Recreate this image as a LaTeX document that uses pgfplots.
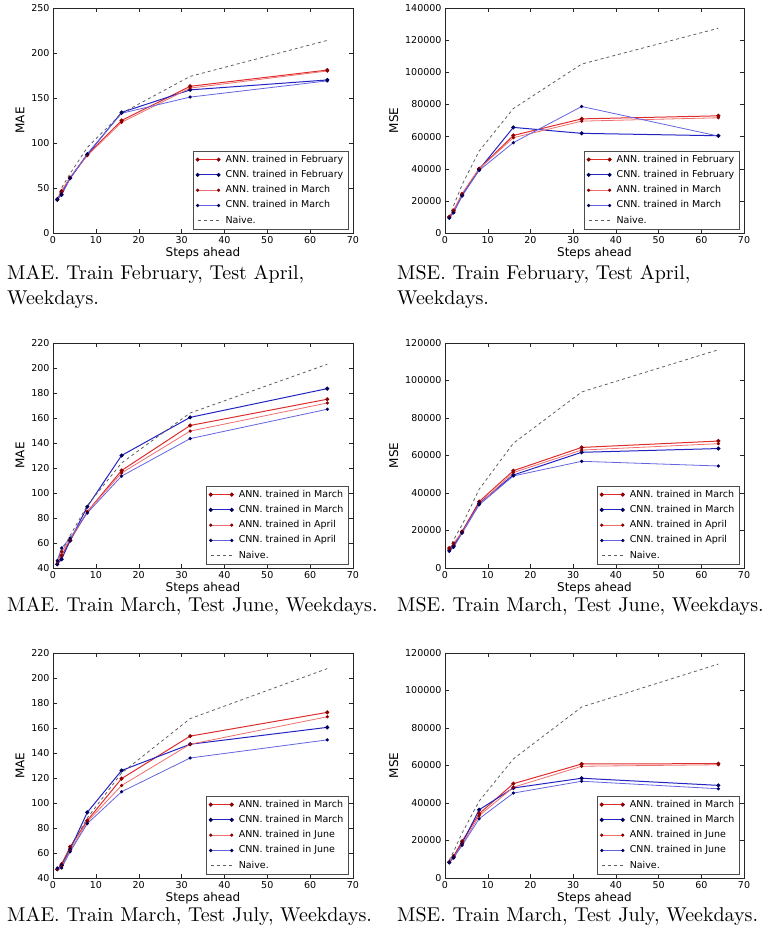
\documentclass[border=0pt]{standalone}
\usepackage{pgfplots}
\pgfplotsset{compat=1.18}
\usepackage{fontspec}
\usepackage{graphicx}
\newfontfamily\dejavu{DejaVu Sans}
\definecolor{annA}{RGB}{222,45,45}
\definecolor{annB}{RGB}{240,110,110}
\definecolor{cnnA}{RGB}{35,35,195}
\definecolor{cnnB}{RGB}{100,100,225}
\definecolor{annM}{RGB}{140,0,0}
\definecolor{cnnM}{RGB}{0,0,95}
\definecolor{naiveC}{RGB}{95,95,95}
\pgfplotsset{
  base/.style={
    scale only axis, width=300pt, height=225pt, anchor=south west,
    xmin=0, xmax=70, xtick={0,10,...,70},
    axis line style={black!85}, tick style={black!85},
    /pgf/number format/assume math mode=true,
    /pgf/number format/fixed, /pgf/number format/1000 sep={},
    scaled y ticks=false,
    tick label style={font=\dejavu\fontsize{9.5}{11}\selectfont},
    label style={font=\dejavu\fontsize{12}{14}\selectfont},
    xlabel={Steps ahead}, xlabel style={yshift=3pt},
    legend cell align=left,
    legend image code/.code={\draw[##1] plot coordinates {(0pt,0pt) (21pt,0pt)};},
    legend style={font=\dejavu\fontsize{9.5}{11}\selectfont, at={(1,0)}, anchor=south east,
      xshift=-5pt, yshift=4pt, draw=black!70, inner xsep=3pt, inner ysep=2pt,
      row sep=3.3pt, column sep=4pt, nodes={inner sep=1.5pt, text height=7pt, text depth=2pt}},
  },
  s1/.style={color=annA, line width=1pt, mark=*, mark size=1.5pt, mark options={fill=annM, draw=annM, solid}},
  s2/.style={color=cnnA, line width=1pt, mark=*, mark size=1.5pt, mark options={fill=cnnM, draw=cnnM, solid}},
  s3/.style={color=annB, line width=0.8pt, mark=*, mark size=1.2pt, mark options={fill=annM, draw=annM, solid}},
  s4/.style={color=cnnB, line width=0.8pt, mark=*, mark size=1.2pt, mark options={fill=cnnM, draw=cnnM, solid}},
  s5/.style={color=naiveC, line width=0.8pt, dash pattern=on 3pt off 3pt, mark=none},
}
\newcommand\subcap[3]{\node[anchor=base west, inner sep=0pt] at (#1pt,#2pt) {\scalebox{2}{\fontsize{10}{12}\selectfont #3}};}
\begin{document}
\begin{tikzpicture}
\useasboundingbox (0,0) rectangle (776pt,933pt);
% ---------- Plot 1 ----------
\begin{axis}[base, at={(53pt,700pt)}, ymin=0, ymax=250, ytick={0,50,...,250}, ylabel={MAE}]
\addplot[s1] coordinates {(1,37)(2,46)(4,61)(8,87)(16,125)(32,163)(64,181)};
\addlegendentry{ANN. trained in February}
\addplot[s2] coordinates {(1,37)(2,43)(4,61)(8,87)(16,134)(32,159)(64,170)};
\addlegendentry{CNN. trained in February}
\addplot[s3] coordinates {(1,38)(2,47)(4,62)(8,86)(16,123)(32,161)(64,180)};
\addlegendentry{ANN. trained in March}
\addplot[s4] coordinates {(1,38)(2,42)(4,61)(8,88)(16,133)(32,151)(64,169)};
\addlegendentry{CNN. trained in March}
\addplot[s5] coordinates {(1,38)(2,50)(4,66)(8,95)(16,133)(32,174)(64,214)};
\addlegendentry{Naive.}
\end{axis}
% ---------- Plot 2 ----------
\begin{axis}[base, at={(445pt,700pt)}, width=299pt, ymin=0, ymax=140000, ytick={0,20000,...,140000}, ylabel={MSE}]
\addplot[s1] coordinates {(1,10000)(2,14000)(4,24000)(8,40000)(16,60700)(32,71000)(64,72900)};
\addlegendentry{ANN. trained in February}
\addplot[s2] coordinates {(1,9500)(2,13000)(4,23500)(8,39500)(16,65700)(32,62000)(64,60500)};
\addlegendentry{CNN. trained in February}
\addplot[s3] coordinates {(1,10000)(2,13500)(4,24500)(8,40000)(16,59300)(32,69600)(64,71700)};
\addlegendentry{ANN. trained in March}
\addplot[s4] coordinates {(1,9300)(2,12500)(4,23000)(8,39000)(16,56200)(32,78700)(64,60300)};
\addlegendentry{CNN. trained in March}
\addplot[s5] coordinates {(1,10000)(2,17000)(4,30000)(8,51000)(16,77400)(32,105100)(64,127400)};
\addlegendentry{Naive.}
\end{axis}
% ---------- Plot 3 ----------
\begin{axis}[base, at={(53pt,365pt)}, ymin=40, ymax=220, ytick={40,60,...,220}, ylabel={MAE}]
\addplot[s1] coordinates {(1,43)(2,50)(4,62)(8,85)(16,118)(32,154)(64,175)};
\addlegendentry{ANN. trained in March}
\addplot[s2] coordinates {(1,43)(2,47)(4,62)(8,89)(16,130)(32,160.5)(64,183.5)};
\addlegendentry{CNN. trained in March}
\addplot[s3] coordinates {(1,45)(2,53)(4,63)(8,85)(16,116)(32,149.5)(64,172)};
\addlegendentry{ANN. trained in April}
\addplot[s4] coordinates {(1,46)(2,56)(4,64)(8,84)(16,113.5)(32,143.5)(64,167)};
\addlegendentry{CNN. trained in April}
\addplot[s5] coordinates {(1,44)(2,53)(4,66)(8,90)(16,124)(32,164)(64,203)};
\addlegendentry{Naive.}
\end{axis}
% ---------- Plot 4 ----------
\begin{axis}[base, at={(445pt,365pt)}, width=299pt, ymin=0, ymax=120000, ytick={0,20000,...,120000}, ylabel={MSE}]
\addplot[s1] coordinates {(1,10600)(2,12000)(4,19500)(8,35400)(16,51900)(32,64300)(64,67700)};
\addlegendentry{ANN. trained in March}
\addplot[s2] coordinates {(1,9500)(2,11500)(4,19000)(8,34500)(16,49600)(32,61700)(64,63700)};
\addlegendentry{CNN. trained in March}
\addplot[s3] coordinates {(1,10000)(2,13300)(4,19000)(8,34000)(16,50900)(32,62900)(64,66300)};
\addlegendentry{ANN. trained in April}
\addplot[s4] coordinates {(1,8900)(2,11000)(4,18600)(8,33700)(16,49100)(32,56900)(64,54400)};
\addlegendentry{CNN. trained in April}
\addplot[s5] coordinates {(1,10000)(2,15000)(4,23000)(8,42000)(16,66500)(32,93900)(64,116400)};
\addlegendentry{Naive.}
\end{axis}
% ---------- Plot 5 ----------
\begin{axis}[base, at={(53pt,55pt)}, ymin=40, ymax=220, ytick={40,60,...,220}, ylabel={MAE}]
\addplot[s1] coordinates {(1,47)(2,51)(4,65)(8,86)(16,119.5)(32,153.5)(64,172.5)};
\addlegendentry{ANN. trained in March}
\addplot[s2] coordinates {(1,47)(2,50)(4,63)(8,92.5)(16,126)(32,147)(64,160.5)};
\addlegendentry{CNN. trained in March}
\addplot[s3] coordinates {(1,47)(2,49)(4,62)(8,85)(16,114)(32,147)(64,169)};
\addlegendentry{ANN. trained in June}
\addplot[s4] coordinates {(1,48)(2,48)(4,61)(8,83.5)(16,109)(32,136)(64,150.5)};
\addlegendentry{CNN. trained in June}
\addplot[s5] coordinates {(1,46)(2,50)(4,64)(8,88)(16,124)(32,167.5)(64,207.5)};
\addlegendentry{Naive.}
\end{axis}
% ---------- Plot 6 ----------
\begin{axis}[base, at={(445pt,55pt)}, width=299pt, ymin=0, ymax=120000, ytick={0,20000,...,120000}, ylabel={MSE}]
\addplot[s1] coordinates {(1,8500)(2,11600)(4,19600)(8,34300)(16,50300)(32,60800)(64,61000)};
\addlegendentry{ANN. trained in March}
\addplot[s2] coordinates {(1,8300)(2,11000)(4,18500)(8,36400)(16,48000)(32,53200)(64,49400)};
\addlegendentry{CNN. trained in March}
\addplot[s3] coordinates {(1,8500)(2,11000)(4,18000)(8,33200)(16,48400)(32,59600)(64,60400)};
\addlegendentry{ANN. trained in June}
\addplot[s4] coordinates {(1,8200)(2,10700)(4,17400)(8,31600)(16,45300)(32,51600)(64,47600)};
\addlegendentry{CNN. trained in June}
\addplot[s5] coordinates {(1,9500)(2,14000)(4,24000)(8,41000)(16,63500)(32,91200)(64,114100)};
\addlegendentry{Naive.}
\end{axis}
% ---------- captions ----------
\subcap{7}{653}{MAE. Train February, Test April,}
\subcap{7}{628}{Weekdays.}
\subcap{397}{653}{MSE. Train February, Test April,}
\subcap{397}{628}{Weekdays.}
\subcap{7}{321}{MAE. Train March, Test June, Weekdays.}
\subcap{397}{321}{MSE. Train March, Test June, Weekdays.}
\subcap{7}{11}{MAE. Train March, Test July, Weekdays.}
\subcap{397}{11}{MSE. Train March, Test July, Weekdays.}
\end{tikzpicture}
\end{document}
